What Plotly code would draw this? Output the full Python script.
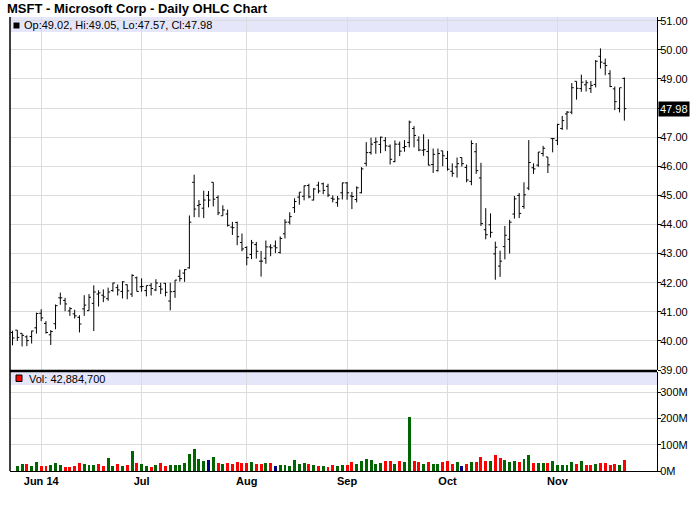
import pandas as pd
import plotly.graph_objects as go

# ---------------- data ----------------
holidays = ["2014-05-26", "2014-07-04", "2014-09-01"]
dates = [d for d in pd.bdate_range("2014-05-22", "2014-11-21")
         if d.strftime("%Y-%m-%d") not in holidays]

open_ = [40.29, 40.37, 40.26, 40.14, 40.15, 40.45, 40.95, 40.60, 40.21, 40.59,
         41.48, 41.39, 41.03, 40.93, 40.81, 41.10, 41.04, 41.29, 41.61, 41.57,
         41.45, 41.73, 41.83, 41.70, 41.93, 41.61, 42.17, 41.86, 41.73, 41.91,
         41.75, 41.87, 41.98, 41.37, 41.70, 42.22, 42.33, 42.51, 45.45, 44.65,
         44.56, 45.00, 45.45, 44.93, 44.30, 44.36, 43.91, 44.07, 43.38, 43.21,
         42.97, 43.31, 42.74, 42.84, 43.23, 43.26, 43.04, 43.68, 44.08, 44.58,
         44.94, 44.97, 45.34, 44.84, 45.35, 45.40, 45.31, 44.90, 44.75, 45.09,
         45.43, 44.98, 44.86, 45.09, 46.10, 46.47, 46.82, 46.75, 46.88, 46.69,
         46.16, 46.76, 46.64, 46.82, 47.30, 46.90, 46.55, 46.51, 46.06, 45.85,
         46.53, 46.27, 45.83, 45.98, 46.30, 45.96, 45.48, 46.50, 45.60, 43.82,
         43.99, 42.99, 42.57, 43.24, 43.49, 44.36, 45.00, 44.62, 45.25, 45.95,
         46.04, 46.44, 46.32, 46.95, 46.89, 47.30, 47.80, 47.86, 48.92, 48.67,
         48.80, 48.67, 48.81, 49.78, 49.54, 49.18, 48.66, 47.99, 49.02]
high = [40.35, 40.37, 40.26, 40.19, 40.35, 40.97, 41.09, 40.68, 40.37, 41.25,
        41.66, 41.48, 41.16, 41.07, 40.88, 41.57, 41.61, 41.91, 41.74, 41.77,
        41.83, 42.00, 41.94, 42.05, 41.94, 42.29, 42.21, 42.15, 41.90, 41.99,
        42.12, 42.00, 41.99, 42.00, 42.09, 42.45, 42.47, 44.31, 45.71, 44.84,
        45.16, 45.15, 45.45, 45.00, 44.66, 44.51, 44.09, 44.10, 43.69, 43.25,
        43.47, 43.40, 43.09, 43.45, 43.32, 43.45, 43.59, 44.18, 44.42, 44.90,
        45.11, 45.34, 45.40, 45.25, 45.47, 45.44, 45.40, 45.00, 44.98, 45.44,
        45.46, 45.12, 45.31, 45.97, 46.83, 46.98, 46.99, 47.02, 47.00, 46.75,
        46.89, 46.85, 46.90, 47.57, 47.38, 47.03, 47.10, 46.93, 46.61, 46.61,
        46.53, 46.53, 46.10, 46.30, 46.30, 46.06, 46.89, 46.80, 46.12, 44.56,
        44.38, 43.41, 43.10, 43.95, 44.16, 44.98, 45.08, 45.45, 46.90, 46.10,
        46.49, 46.70, 46.32, 46.97, 47.46, 47.73, 47.90, 48.86, 48.92, 49.15,
        48.96, 48.93, 49.65, 50.05, 49.70, 49.30, 48.74, 48.70, 49.05]
low = [39.85, 40.00, 39.81, 39.82, 39.91, 40.25, 40.68, 40.25, 39.86, 40.40,
       41.24, 41.02, 40.86, 40.77, 40.29, 40.86, 41.04, 40.34, 41.18, 41.33,
       41.38, 41.69, 41.56, 41.46, 41.43, 41.51, 41.70, 41.69, 41.53, 41.56,
       41.71, 41.61, 41.53, 41.05, 41.48, 42.04, 42.03, 42.48, 44.25, 44.25,
       44.22, 44.59, 44.62, 44.32, 44.30, 43.93, 43.64, 43.29, 43.08, 42.60,
       42.81, 42.83, 42.21, 42.65, 42.91, 43.02, 43.00, 43.52, 44.00, 44.40,
       44.68, 44.83, 44.90, 44.83, 45.07, 45.04, 44.94, 44.76, 44.61, 44.86,
       44.85, 44.53, 44.76, 45.07, 46.00, 46.40, 46.43, 46.45, 46.52, 46.06,
       46.14, 46.35, 46.50, 46.65, 46.65, 46.52, 46.36, 46.03, 45.77, 45.82,
       46.00, 45.85, 45.64, 45.61, 45.99, 45.45, 45.35, 45.74, 43.95, 43.49,
       43.55, 42.10, 42.20, 42.80, 43.00, 44.20, 44.22, 44.54, 45.18, 45.74,
       45.98, 46.34, 45.77, 46.48, 46.73, 47.25, 47.26, 47.79, 48.29, 48.56,
       48.57, 48.52, 48.71, 49.36, 49.13, 48.72, 47.93, 47.85, 47.57]
close = [40.10, 40.12, 40.19, 40.01, 40.34, 40.94, 40.79, 40.29, 40.32, 41.21,
         41.48, 41.27, 41.11, 40.86, 40.58, 41.23, 41.50, 41.68, 41.65, 41.51,
         41.68, 41.99, 41.75, 42.03, 41.72, 42.25, 41.70, 41.87, 41.90, 41.80,
         41.99, 41.78, 41.67, 41.69, 42.09, 42.14, 42.45, 44.08, 44.53, 44.69,
         44.84, 44.84, 44.87, 44.40, 44.50, 43.97, 43.89, 43.58, 43.16, 42.86,
         43.37, 43.08, 42.74, 43.23, 43.20, 43.20, 43.52, 44.08, 44.27, 44.79,
         45.11, 45.33, 44.95, 45.22, 45.15, 45.17, 45.01, 44.87, 44.88, 45.43,
         45.09, 44.96, 45.26, 45.91, 46.47, 46.76, 46.84, 47.00, 46.70, 46.24,
         46.76, 46.52, 46.68, 47.52, 47.06, 46.56, 46.57, 46.04, 46.41, 46.44,
         46.36, 45.90, 45.76, 46.09, 46.09, 45.53, 46.78, 45.85, 44.03, 43.65,
         43.73, 43.22, 42.74, 43.63, 44.08, 44.88, 44.38, 45.02, 46.13, 45.91,
         46.49, 46.62, 46.05, 46.95, 47.44, 47.57, 47.86, 48.70, 48.68, 48.89,
         48.87, 48.78, 49.61, 49.58, 49.46, 48.74, 48.22, 48.70, 47.98]
volume_m = [None, 19, 27, 26, 19, 34, 19, 18, 23, 30,
            24, 15, 15, 19, 30, 27, 23, 23, 27, 19,
            49, 19, 27, 19, 23, 76, 30, 27, 19, 15,
            23, 30, 19, 23, 23, 23, 30, 65, 84, 46,
            39, 43, 52, 30, 27, 30, 27, 34, 30, 30,
            34, 27, 27, 30, 30, 19, 23, 23, 19, 42,
            27, 30, 27, 23, 19, 19, 15, 23, 19, 23,
            23, 34, 27, 38, 46, 42, 27, 30, 38, 38,
            27, 38, 34, 205, 38, 34, 27, 34, 27, 27,
            34, 38, 27, 34, 19, 27, 34, 34, 53, 38,
            38, 61, 49, 42, 34, 38, 34, 46, 61, 30,
            30, 30, 30, 38, 23, 23, 23, 34, 27, 38,
            23, 23, 27, 30, 30, 23, 27, 23, 42.8847]
month_labels = ["Jun 14", "Jul", "Aug", "Sep", "Oct", "Nov"]
price_ticks = [39, 40, 41, 42, 43, 44, 45, 46, 47, 48, 49, 50, 51]
vol_ticks = [0, 100, 200, 300]
vol_tick_labels = ["0M", "100M", "200M", "300M"]
legend_price = "Op:49.02, Hi:49.05, Lo:47.57, Cl:47.98"
legend_vol = "Vol: 42,884,700"
last_close_label = "47.98"

# ---------------- derived ----------------
xs = list(range(len(dates)))
month_pos = []
seen = set()
for i, d in enumerate(dates):
    key = (d.year, d.month)
    if key not in seen:
        seen.add(key)
        if d.month >= 6:
            month_pos.append(i)

vol_colors = []
for i in range(len(close)):
    if i == 0:
        vol_colors.append("#006400")
    elif close[i] > close[i - 1]:
        vol_colors.append("#006400")
    elif close[i] < close[i - 1]:
        vol_colors.append("#ff0000")
    else:
        vol_colors.append("#000080")

# the last-price box hides the price label it sits on (as in the original)
price_tick_text = ["" if abs(v - close[-1]) < 0.5 else f"{v:.2f}"
                   for v in price_ticks]

# ---------------- layout geometry (pixels) ----------------
W, H = 700, 512
L, R, T, B = 10, 657, 17, 471


def px(x):
    return (x - L) / (R - L)


def py(y):
    return (B - y) / (B - T)


GRID = "#dcdcdc"
FONT = "Liberation Sans, Arial, sans-serif"

fig = go.Figure()
fig.add_trace(go.Ohlc(
    x=xs, open=open_, high=high, low=low, close=close,
    xaxis="x2", yaxis="y",
    increasing=dict(line=dict(color="black", width=1)),
    decreasing=dict(line=dict(color="black", width=1)),
    tickwidth=0.42, showlegend=False, hoverinfo="skip"))
fig.add_trace(go.Bar(
    x=xs, y=volume_m, xaxis="x", yaxis="y2",
    marker=dict(color=vol_colors, line=dict(width=0)),
    width=0.62, showlegend=False, hoverinfo="skip"))

xr = [(L - 12.52) / 4.78, (R - 12.52) / 4.78]

fig.update_layout(
    width=W, height=H,
    margin=dict(l=L, r=W - R, t=T, b=H - B, pad=0),
    paper_bgcolor="white", plot_bgcolor="white",
    font=dict(family=FONT, size=11, color="black"),
    showlegend=False,
    bargap=0,
    xaxis=dict(domain=[0, 1], anchor="y2", range=xr,
               tickmode="array", tickvals=month_pos, ticktext=month_labels,
               tickfont=dict(size=11, family=FONT, weight="bold"),
               showgrid=True, gridcolor=GRID, gridwidth=1,
               showline=True, linecolor="black", linewidth=1,
               ticks="", zeroline=False, rangeslider=dict(visible=False)),
    xaxis2=dict(domain=[0, 1], anchor="y", matches="x", range=xr,
                tickmode="array", tickvals=month_pos,
                showticklabels=False, showgrid=True, gridcolor=GRID,
                gridwidth=1, showline=False, ticks="", zeroline=False,
                rangeslider=dict(visible=False)),
    yaxis=dict(domain=[py(370), 1], anchor="x2", side="right",
               range=[39, 51.13], tickmode="array", tickvals=price_ticks,
               ticktext=price_tick_text, ticks="outside", ticklen=3,
               ticklabelstandoff=-3,
               tickcolor="black", showline=True, linecolor="black",
               linewidth=1, showgrid=True, gridcolor=GRID, zeroline=False,
               tickfont=dict(size=11)),
    yaxis2=dict(domain=[0, py(372)], anchor="x", side="right",
                range=[0, 376], tickmode="array", tickvals=vol_ticks,
                ticktext=vol_tick_labels, ticks="outside", ticklen=3,
                ticklabelstandoff=-3,
                tickcolor="black", showline=True, linecolor="black",
                linewidth=1, showgrid=True, gridcolor=GRID, zeroline=False,
                tickfont=dict(size=11)),
)

shapes = [
    dict(type="rect", xref="paper", yref="paper", x0=0, x1=1,
         y0=py(32), y1=py(17), fillcolor="#e6e6fa", line=dict(width=0),
         layer="below"),
    dict(type="rect", xref="paper", yref="paper", x0=0, x1=1,
         y0=py(385), y1=py(372), fillcolor="#e6e6fa", line=dict(width=0),
         layer="below"),
    dict(type="line", xref="paper", yref="paper", x0=0, x1=0,
         y0=0, y1=1, line=dict(color="black", width=1.5)),
    dict(type="line", xref="paper", yref="paper", x0=0, x1=1,
         y0=py(371), y1=py(371), line=dict(color="black", width=2.5)),
    dict(type="rect", xref="paper", yref="paper", x0=px(13.5), x1=px(19.5),
         y0=py(28.5), y1=py(22.5), fillcolor="black", line=dict(width=0)),
    dict(type="rect", xref="paper", yref="paper", x0=px(16), x1=px(22),
         y0=py(381.5), y1=py(375), fillcolor="#ff0000",
         line=dict(color="black", width=1)),
]
fig.update_layout(shapes=shapes)

annotations = [
    dict(xref="paper", yref="paper", x=px(5), y=py(8.5), xanchor="left",
         yanchor="middle", showarrow=False,
         text="MSFT - Microsoft Corp - Daily OHLC Chart",
         font=dict(size=13, family=FONT, weight="bold", color="black")),
    dict(xref="paper", yref="paper", x=px(22.3), y=py(25), xanchor="left",
         yanchor="middle", showarrow=False, text=legend_price,
         font=dict(size=11, family=FONT, color="black")),
    dict(xref="paper", yref="paper", x=px(26.5), y=py(378.5), xanchor="left",
         yanchor="middle", showarrow=False, text=legend_vol,
         font=dict(size=11, family=FONT, color="black")),
    dict(xref="paper", yref="y", x=1, y=close[-1], xanchor="left",
         yanchor="middle", xshift=1, showarrow=False, text=last_close_label,
         bgcolor="black", borderpad=1,
         font=dict(size=11, family=FONT, color="white")),
]
fig.update_layout(annotations=annotations)

fig.write_html(
    "out.html",
    config={"displayModeBar": False, "staticPlot": True},
    post_script="document.body.style.margin='0';document.body.style.padding='0';"
                "document.body.style.overflow='hidden';")
